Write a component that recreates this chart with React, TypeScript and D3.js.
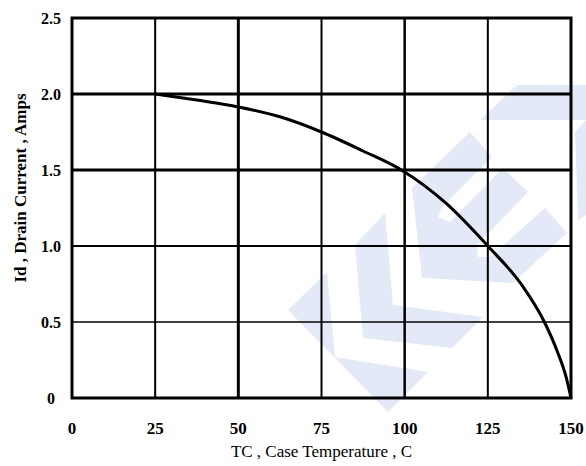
import React from 'react';
import * as d3 from 'd3';

// case temperature (C) and drain current (A)
const temps = [25, 37.5, 50, 62.5, 75, 87.5, 99, 112.5, 125, 135, 142, 146, 148.5, 150];
const current = [2.0, 1.96, 1.915, 1.85, 1.75, 1.625, 1.5, 1.28, 1.0, 0.75, 0.5, 0.3, 0.14, 0];

const xTicks = [0, 25, 50, 75, 100, 125, 150];
const yTicks = [0, 0.5, 1.0, 1.5, 2.0, 2.5];
const yTickLabels = ['0', '0.5', '1.0', '1.5', '2.0', '2.5'];

// gridline widths vary in the original scan
const xGridWidth: Record<number, number> = { 25: 2, 50: 3, 75: 2, 100: 2.5, 125: 2 };
const yGridWidth: Record<number, number> = { 0.5: 1.5, 1: 2, 1.5: 3, 2: 3 };

// faint logo behind the grid (svg pixel coords)
const watermark = [
  [[288, 310], [327, 272], [335, 357], [428, 372], [388, 412]],
  [[355, 245], [385, 213], [393, 305], [483, 317], [452, 348], [363, 338]],
  [[412, 188], [470, 132], [492, 157], [442, 207], [438, 217], [450, 222], [503, 168], [528, 192],
    [477, 245], [478, 257], [490, 257], [545, 208], [567, 233], [513, 283], [422, 278]],
  [[480, 120], [517, 85], [586, 85], [586, 120]],
  [[575, 132], [586, 120], [586, 215], [578, 220]],
];

const W = 586;
const H = 466;
const margin = { left: 72, right: 15, top: 18, bottom: 68 };

export default function App() {
  const x = d3.scaleLinear().domain([0, 150]).range([margin.left, W - margin.right]);
  const y = d3.scaleLinear().domain([0, 2.5]).range([H - margin.bottom, margin.top]);

  const points = temps.map((t, i) => [t, current[i]] as [number, number]);
  const line = d3.line<[number, number]>()
    .x((d) => x(d[0]))
    .y((d) => y(d[1]))
    .curve(d3.curveMonotoneX);

  const font = '"Liberation Serif", "Times New Roman", serif';

  return (
    <svg width={W} height={H} style={{ position: 'absolute', left: 0, top: 0, background: '#fff' }}>
      <g fill="#e3e9f6">
        {watermark.map((p, i) => (
          <polygon key={i} points={p.map((q) => q.join(',')).join(' ')} />
        ))}
      </g>

      {xTicks.slice(1, -1).map((t) => (
        <line key={'gx' + t} x1={x(t)} x2={x(t)} y1={y(0)} y2={y(2.5)} stroke="#000" strokeWidth={xGridWidth[t]} />
      ))}
      {yTicks.slice(1, -1).map((t) => (
        <line key={'gy' + t} x1={x(0)} x2={x(150)} y1={y(t)} y2={y(t)} stroke="#000" strokeWidth={yGridWidth[t]} />
      ))}

      <path d={line(points) || ''} fill="none" stroke="#000" strokeWidth={3} />

      <rect x={x(0)} y={y(2.5)} width={x(150) - x(0)} height={y(0) - y(2.5)}
        fill="none" stroke="#000" strokeWidth={3} />

      <g fontFamily={font} fontWeight="bold" fontSize={16} textAnchor="middle">
        {yTicks.map((t, i) => (
          <text key={'ly' + t} x={51} y={y(t) + 6}>{yTickLabels[i]}</text>
        ))}
      </g>
      <g fontFamily={font} fontWeight="bold" fontSize={17} textAnchor="middle">
        {xTicks.map((t) => (
          <text key={'lx' + t} x={x(t)} y={434}>{t}</text>
        ))}
      </g>

      <text x={(x(0) + x(150)) / 2} y={457} fontFamily={font} fontSize={17} textAnchor="middle">
        TC , Case Temperature , C
      </text>
      <text transform={`translate(26, ${(y(0) + y(2.5)) / 2 - 20}) rotate(-90)`}
        fontFamily={font} fontWeight="bold" fontSize={17} textAnchor="middle">
        Id , Drain Current , Amps
      </text>
    </svg>
  );
}
